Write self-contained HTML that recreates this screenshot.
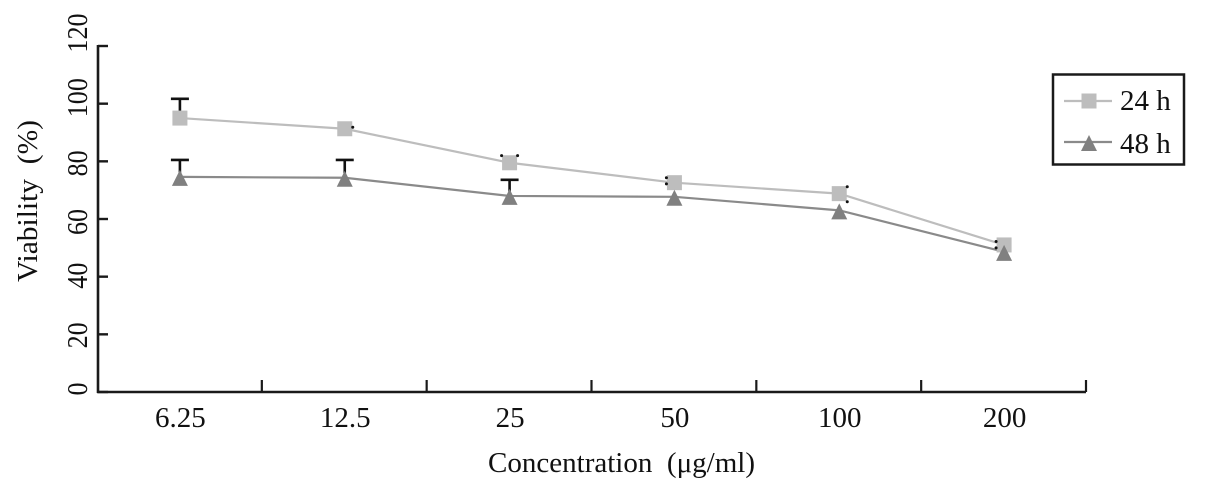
<!DOCTYPE html>
<html>
<head>
<meta charset="utf-8">
<style>
html,body{margin:0;padding:0;background:#fff;}
svg{display:block;}
text{font-family:"Liberation Serif",serif;fill:#111;font-size:29px;}
</style>
</head>
<body>
<svg id="chart" width="1205" height="493" viewBox="0 0 1205 493" xmlns="http://www.w3.org/2000/svg">
<g id="axes"></g>
<g id="series"></g>
<text transform="translate(37,282) rotate(-90)" textLength="162" lengthAdjust="spacingAndGlyphs">Viability&#160;&#160;(%)</text>
<text x="488" y="472" textLength="267" lengthAdjust="spacingAndGlyphs">Concentration&#160;&#160;(μg/ml)</text>
<g>
<rect x="1053" y="74.5" width="131" height="90" fill="#fff" stroke="#1a1a1a" stroke-width="2.5"/>
<g>
<line x1="1064" y1="101" x2="1112" y2="101" stroke="#bdbdbd" stroke-width="2.2"/>
<rect x="1081.5" y="93.5" width="15" height="15" fill="#bdbdbd"/>
<text x="1120" y="110">24 h</text>
</g>
<g>
<line x1="1064" y1="142" x2="1112" y2="142" stroke="#8a8a8a" stroke-width="2.2"/>
<path d="M1089 135L1095 147L1097 151H1081L1083 147Z" fill="#808080"/>
<text x="1120" y="153">48 h</text>
</g>
</g>
</svg>
<script>
const categories = ['6.25', '12.5', '25', '50', '100', '200'];
const yTicks = [0, 20, 40, 60, 80, 100, 120];
const series24h = [95, 91.3, 79.5, 72.6, 68.8, 51];
const series48h = [74.6, 74.3, 68, 67.7, 63, 48.6];
const errorTop24h = [101.7, null, null, null, null, null];
const errorTop48h = [80.5, 80.5, 73.6, null, null, null];
const capDots24h = [null, 91.8, 82, 74.3, 71.2, 52.2];
const capDots48h = [null, null, null, 72.2, 66, 50];

const NS = 'http://www.w3.org/2000/svg';
const plotLeft = 97, plotWidth = 989, plotBottom = 392, plotTop = 46, yMax = 120;
const dotSide = [0, 1, 0, -1, 1, -1];
const yLabelNudge = [-3, 1, -1, 3, 2, -6, -13];
function xScale(i){ return plotLeft + (i + 0.5) * plotWidth / categories.length + 0.5; }
function xBand(i){ return plotLeft + i * plotWidth / categories.length; }
function yScale(v){ return plotBottom - v * (plotBottom - plotTop) / yMax; }
function make(tag, attrs, parent){
  const el = document.createElementNS(NS, tag);
  for (const k in attrs) el.setAttribute(k, attrs[k]);
  parent.appendChild(el);
  return el;
}
const axes = document.getElementById('axes');
const seriesG = document.getElementById('series');

const yAxisLine = make('line', {x1: plotLeft + 1, y1: plotTop - 1, x2: plotLeft + 1, y2: plotBottom + 1, stroke: '#1a1a1a', 'stroke-width': 2.6}, axes);


const xAxisLine = make('line', {x1: plotLeft, y1: plotBottom, x2: plotLeft + plotWidth, y2: plotBottom, stroke: '#1a1a1a', 'stroke-width': 2.6}, axes);



yTicks.forEach(function(v, i){
  const y = yScale(v);
  const tick = make('line', {x1: plotLeft + 1, y1: y, x2: plotLeft + 11, y2: y, stroke: '#1a1a1a', 'stroke-width': 2.4}, axes);
  
  
  const label = make('text', {transform: 'translate(87,' + (y + yLabelNudge[i]) + ') rotate(-90) scale(0.9,1)', 'text-anchor': 'middle'}, axes);
  
  
  label.textContent = v;
});

categories.forEach(function(c, i){
  const tx = xBand(i + 1);
  const tick = make('line', {x1: tx, y1: plotBottom, x2: tx, y2: plotBottom - 12, stroke: '#1a1a1a', 'stroke-width': 2.2}, axes);
  
  
  const label = make('text', {x: xScale(i) + 0.5, y: 427, 'text-anchor': 'middle'}, axes);
  
  
  label.textContent = c;
});

function drawErrors(tops, values, name){
  tops.forEach(function(t, i){
    if (t === null) return;
    const x = xScale(i);
    const err = make('path', {d: 'M' + (x - 9) + ' ' + yScale(t) + 'H' + (x + 9) + 'M' + x + ' ' + yScale(t) + 'V' + yScale(values[i]), stroke: '#111', 'stroke-width': 2.6, fill: 'none'}, seriesG);
    
    
  });
}
function drawDot(x, y, name){
  const dot = make('circle', {cx: x, cy: y, r: 1.5, fill: '#111'}, seriesG);
  
  
}
function drawDots(values, name){
  values.forEach(function(v, i){
    if (v === null) return;
    const x = xScale(i), y = yScale(v);
    if (dotSide[i] === 0) {
      drawDot(x - 8, y, name);
      drawDot(x + 8, y, name);
    } else {
      drawDot(x + dotSide[i] * 8, y, name);
    }
  });
}
function drawLine(values, color, name){
  const pts = values.map(function(v, i){ return xScale(i) + ',' + yScale(v); }).join(' ');
  const line = make('polyline', {points: pts, fill: 'none', stroke: color, 'stroke-width': 2.2}, seriesG);
  
  
}

drawErrors(errorTop24h, series24h, 'error-bar-24h');
drawErrors(errorTop48h, series48h, 'error-bar-48h');
drawLine(series24h, '#bdbdbd', 'line-24h');
drawLine(series48h, '#8a8a8a', 'line-48h');

series24h.forEach(function(v, i){
  const x = xScale(i), y = yScale(v);
  const m = make('rect', {x: x - 7.5, y: y - 7.5, width: 15, height: 15, fill: '#bdbdbd'}, seriesG);
  
  
});
series48h.forEach(function(v, i){
  const x = xScale(i), y = yScale(v);
  const m = make('path', {d: 'M' + x + ' ' + (y - 7) + 'L' + (x + 6) + ' ' + (y + 5) + 'L' + (x + 8) + ' ' + (y + 9) + 'H' + (x - 8) + 'L' + (x - 6) + ' ' + (y + 5) + 'Z', fill: '#808080'}, seriesG);
  
  
});
drawDots(capDots24h, 'error-cap-24h');
drawDots(capDots48h, 'error-cap-48h');
</script>
</body>
</html>
